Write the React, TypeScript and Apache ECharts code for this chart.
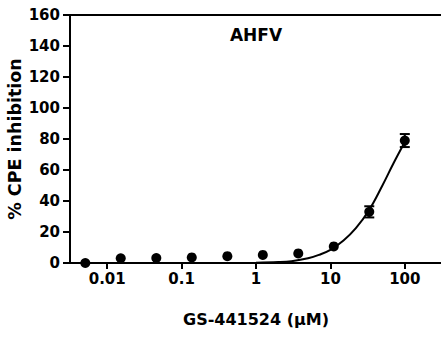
import React, { useEffect, useRef } from "react";
import * as echarts from "echarts";

// 3-fold dilution series of GS-441524 (µM)
const concentrations = [0.00508, 0.0152, 0.0457, 0.137, 0.412, 1.235, 3.7, 11.1, 33.3, 100];
const inhibition = [0, 3.0, 3.2, 3.6, 4.4, 5.2, 6.2, 10.7, 33, 79];
const errors = [0, 0, 0, 0, 0, 0, 0, 0, 3.6, 4.2];
// fitted curve
const curveX = [1, 2, 3, 5, 7, 10, 15, 22, 33, 50, 70, 100];
const curveY = [0.2, 0.6, 1.2, 3, 5.2, 8.5, 14.5, 22.5, 34, 50, 64, 78];
const xTickValues = [0.01, 0.1, 1, 10, 100];
const xTickLabels = ["0.01", "0.1", "1", "10", "100"];
const yTicks = [0, 20, 40, 60, 80, 100, 120, 140, 160];

const FONT = "DejaVu Sans";

export default function App() {
  const ref = useRef<HTMLDivElement>(null);
  useEffect(() => {
    if (!ref.current) return;
    const chart = echarts.init(ref.current, null, { renderer: "svg" });
    const lg = (v: number) => Math.log10(v);
    const labelMap: Record<string, string> = {};
    xTickValues.forEach((v, i) => {
      labelMap[String(Math.round(lg(v)))] = xTickLabels[i];
    });
    const tickPos = xTickValues.map((v) => Math.round(lg(v)));

    chart.setOption({
      animation: false,
      grid: { left: 70, right: -1, top: 15, bottom: 74, outerBoundsMode: "none", containLabel: false },
      graphic: [
        {
          type: "text",
          x: 256,
          y: 35,
          style: {
            text: "AHFV",
            font: `bold 17px "${FONT}"`,
            fill: "#000",
            textAlign: "center",
            textVerticalAlign: "middle",
          },
        },
        {
          type: "text",
          x: 15,
          y: 139,
          rotation: Math.PI / 2,
          style: {
            text: "% CPE inhibition",
            font: `bold 17.5px "${FONT}"`,
            fill: "#000",
            textAlign: "center",
            textVerticalAlign: "middle",
          },
        },
      ],
      xAxis: [
        {
          type: "value",
          min: -2.5,
          max: 2.5,
          position: "bottom",
          splitLine: { show: false },
          axisLine: { onZero: false, lineStyle: { color: "#000", width: 2 } },
          axisTick: {
            show: true,
            customValues: tickPos,
            length: 6,
            lineStyle: { color: "#000", width: 2 },
          },
          axisLabel: {
            customValues: tickPos,
            formatter: (v: number) => labelMap[String(Math.round(v))] ?? "",
            color: "#000",
            fontFamily: FONT,
            fontWeight: "bold",
            fontSize: 15,
            margin: 8,
          },
          name: "GS-441524 (\u03bcM)",
          nameLocation: "middle",
          nameGap: 48,
          nameTextStyle: { color: "#000", fontFamily: FONT, fontWeight: "bold", fontSize: 16 },
        },
        {
          type: "value",
          min: -2.5,
          max: 2.5,
          position: "top",
          splitLine: { show: false },
          axisLine: { onZero: false, lineStyle: { color: "#000", width: 2 } },
          axisTick: { show: false },
          axisLabel: { show: false },
        },
      ],
      yAxis: {
        type: "value",
        min: 0,
        max: 160,
        interval: 20,
        position: "left",
        splitLine: { show: false },
        axisLine: { show: true, onZero: false, lineStyle: { color: "#000", width: 2 } },
        axisTick: { show: true, length: 7, lineStyle: { color: "#000", width: 2 } },
        axisLabel: {
          color: "#000",
          fontFamily: FONT,
          fontWeight: "bold",
          fontSize: 15,
          margin: 10,
          formatter: (v: number) => (yTicks.includes(v) ? String(v) : ""),
        },
      },
      series: [
        {
          type: "line",
          xAxisIndex: 0,
          data: curveX.map((x, i) => [lg(x), curveY[i]]),
          smooth: 0.4,
          showSymbol: false,
          lineStyle: { color: "#000", width: 2 },
          z: 2,
        },
        {
          type: "custom",
          xAxisIndex: 0,
          data: concentrations.map((c, i) => [lg(c), inhibition[i], errors[i]]),
          renderItem: (params: any, api: any) => {
            const x = api.value(0);
            const y = api.value(1);
            const e = api.value(2);
            if (!e) return null;
            const top = api.coord([x, y + e]);
            const bot = api.coord([x, y - e]);
            const hw = 5;
            const st = { stroke: "#000", lineWidth: 2 };
            return {
              type: "group",
              children: [
                { type: "line", shape: { x1: top[0], y1: top[1], x2: bot[0], y2: bot[1] }, style: st },
                { type: "line", shape: { x1: top[0] - hw, y1: top[1], x2: top[0] + hw, y2: top[1] }, style: st },
                { type: "line", shape: { x1: bot[0] - hw, y1: bot[1], x2: bot[0] + hw, y2: bot[1] }, style: st },
              ],
            };
          },
          z: 3,
        },
        {
          type: "scatter",
          xAxisIndex: 0,
          data: concentrations.map((c, i) => [lg(c), inhibition[i]]),
          symbol: "circle",
          symbolSize: 10,
          itemStyle: { color: "#000", opacity: 1 },
          z: 4,
        },
      ],
    });
    return () => chart.dispose();
  }, []);
  return <div ref={ref} style={{ width: 441, height: 337, position: "absolute", left: 0, top: 0 }} />;
}
